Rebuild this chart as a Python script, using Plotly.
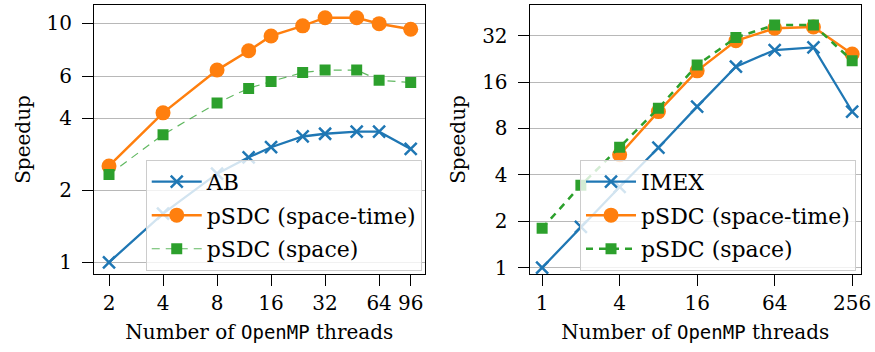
import plotly.graph_objects as go

# ---------------- data ----------------
threads_ab = [2, 4, 8, 12, 16, 24, 32, 48, 64, 96]
speedup_ab = [1.0, 1.60, 2.35, 2.75, 3.03, 3.36, 3.45, 3.52, 3.52, 2.98]
speedup_ab_psdc_st = [2.53, 4.22, 6.37, 7.67, 8.85, 9.75, 10.55, 10.55, 9.96, 9.44]
speedup_ab_psdc_sp = [2.33, 3.42, 4.64, 5.34, 5.71, 6.22, 6.37, 6.37, 5.78, 5.65]

threads_imex = [1, 2, 4, 8, 16, 32, 64, 128, 256]
speedup_imex = [1.0, 1.84, 3.34, 6.0, 11.08, 20.1, 25.8, 26.8, 10.3]
threads_imex_st = [4, 8, 16, 32, 64, 128, 256]
speedup_imex_psdc_st = [5.40, 10.29, 18.9, 29.6, 35.7, 36.4, 24.3]
speedup_imex_psdc_sp = [1.80, 3.42, 6.05, 10.8, 20.6, 31.1, 37.5, 37.5, 22.0]

left_xticks = [2, 4, 8, 16, 32, 64, 96]
left_yticks = [1, 2, 4, 6, 10]
right_xticks = [1, 4, 16, 64, 256]
right_yticks = [1, 2, 4, 8, 16, 32]

BLUE = "#1f77b4"
ORANGE = "#ff7f0e"
GREEN = "#2ca02c"
FONT = "DejaVu Serif"
FS = 20

fig = go.Figure()

# ---------------- left panel ----------------
fig.add_trace(go.Scatter(
    x=threads_ab, y=speedup_ab, name="AB", mode="lines+markers",
    line=dict(color=BLUE, width=2.3),
    marker=dict(symbol="x-thin", size=12, color=BLUE, line=dict(width=2.5, color=BLUE)),
    xaxis="x", yaxis="y", legend="legend", legendgroup="a1"))
fig.add_trace(go.Scatter(
    x=threads_ab, y=speedup_ab_psdc_st, name="pSDC (space-time)", mode="lines+markers",
    line=dict(color=ORANGE, width=2.5),
    marker=dict(symbol="circle", size=15, color=ORANGE),
    xaxis="x", yaxis="y", legend="legend", legendgroup="a2"))
fig.add_trace(go.Scatter(
    x=threads_ab, y=speedup_ab_psdc_sp, name="pSDC (space)", mode="lines+markers",
    line=dict(color="rgba(44,160,44,0.75)", width=1.2, dash="8px,6px"),
    marker=dict(symbol="square", size=11, color=GREEN),
    xaxis="x", yaxis="y", legend="legend", legendgroup="a3"))

# ---------------- right panel ----------------
fig.add_trace(go.Scatter(
    x=threads_imex, y=speedup_imex, name="IMEX", mode="lines+markers",
    line=dict(color=BLUE, width=2.3),
    marker=dict(symbol="x-thin", size=12, color=BLUE, line=dict(width=2.5, color=BLUE)),
    xaxis="x2", yaxis="y2", legend="legend2", legendgroup="b1"))
fig.add_trace(go.Scatter(
    x=threads_imex_st, y=speedup_imex_psdc_st, name="pSDC (space-time)", mode="lines+markers",
    line=dict(color=ORANGE, width=2.5),
    marker=dict(symbol="circle", size=15, color=ORANGE),
    xaxis="x2", yaxis="y2", legend="legend2", legendgroup="b2"))
fig.add_trace(go.Scatter(
    x=threads_imex, y=speedup_imex_psdc_sp, name="pSDC (space)", mode="lines+markers",
    line=dict(color=GREEN, width=2.5, dash="7px,6px"),
    marker=dict(symbol="square", size=11, color=GREEN),
    xaxis="x2", yaxis="y2", legend="legend2", legendgroup="b3"))

axis_common = dict(
    type="log", showline=True, linecolor="black", linewidth=1, mirror=True,
    ticks="outside", ticklen=11, tickwidth=1, tickcolor="black",
    tickfont=dict(family=FONT, size=FS, color="black"),
    zeroline=False,
)
xtitle = "Number of <span style='font-family:DejaVu Sans Mono;font-size:19px'>OpenMP</span> threads"

legend_common = dict(
    bgcolor="rgba(255,255,255,0.8)", bordercolor="#cccccc", borderwidth=1,
    font=dict(family=FONT, size=22, color="black"),
    xanchor="right", yanchor="bottom", tracegroupgap=2, itemwidth=50,
)

fig.update_layout(
    width=875, height=352,
    margin=dict(l=94, r=12, t=4, b=78),
    plot_bgcolor="white", paper_bgcolor="white",
    font=dict(family=FONT, size=FS, color="black"),
    xaxis=dict(axis_common, domain=[0, 0.4311], range=[0.2174, 2.060],
               tickvals=left_xticks, ticktext=[str(v) for v in left_xticks],
               showgrid=False,
               title=dict(text=xtitle, font=dict(family=FONT, size=FS), standoff=10),
               anchor="y"),
    yaxis=dict(axis_common, range=[-0.0488, 1.0763],
               tickvals=left_yticks, ticktext=[str(v) for v in left_yticks],
               ticklabelstandoff=6,
               showgrid=True, gridcolor="#b8b8b8", gridwidth=1,
               title=dict(text="Speedup", font=dict(family=FONT, size=FS), standoff=10),
               anchor="x"),
    xaxis2=dict(axis_common, domain=[0.5679, 1], range=[-0.0975, 2.4768],
                tickvals=right_xticks, ticktext=[str(v) for v in right_xticks],
                showgrid=False,
                title=dict(text=xtitle, font=dict(family=FONT, size=FS), standoff=10),
                anchor="y2"),
    yaxis2=dict(axis_common, range=[-0.0407, 1.7035],
                tickvals=right_yticks, ticktext=[str(v) for v in right_yticks],
                ticklabelstandoff=6,
                showgrid=True, gridcolor="#b8b8b8", gridwidth=1,
                title=dict(text="Speedup", font=dict(family=FONT, size=FS), standoff=11),
                anchor="x2"),
    legend=dict(legend_common, x=0.4273, y=0.012),
    legend2=dict(legend_common, x=0.9935, y=0.012),
)

fig.write_html("out.html")
